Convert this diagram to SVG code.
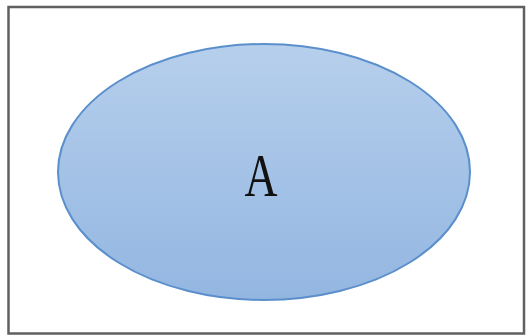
<svg xmlns="http://www.w3.org/2000/svg" width="526" height="335" viewBox="0 0 526 335">
<defs>
<linearGradient id="g" x1="0" y1="0" x2="0" y2="1">
<stop offset="0" stop-color="#b6cfec"/>
<stop offset="1" stop-color="#93b6e1"/>
</linearGradient>
</defs>
<rect x="0" y="0" width="526" height="335" fill="#ffffff"/>
<rect x="8.5" y="7" width="515.5" height="326.5" fill="none" stroke="#606060" stroke-width="2.5"/>
<g id="nodeA">
<ellipse cx="264" cy="172" rx="206" ry="128" fill="url(#g)" stroke="#5b8fcc" stroke-width="2"/>
<text x="261" y="196" font-family="'Liberation Serif', serif" font-size="62" text-anchor="middle" textLength="33" lengthAdjust="spacingAndGlyphs" fill="#111111">A</text>
</g>
</svg>
